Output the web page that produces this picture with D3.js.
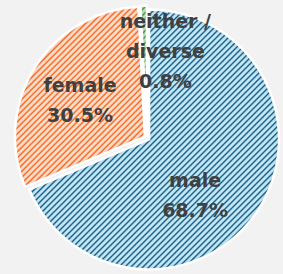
<!DOCTYPE html>
<html>
<head>
<meta charset="utf-8">
<script src="https://cdn.jsdelivr.net/npm/d3@7"></script>
<style>
  html, body { margin: 0; padding: 0; background: #f2f2f2; }
  svg { display: block; }
</style>
</head>
<body>
<div id="chart"></div>
<script>
// data
const categories = ['male', 'female', 'neither /\ndiverse'];
const shares = [68.7, 30.5, 0.8];
const lightColors = ['#c5e7f4', '#fddcc8', '#bfe0bf'];
const darkColors = ['#17608a', '#ef6c28', '#3f9a46'];
const labelNudge = [[-6, 21], [-12, -3], [20, -22]];

const width = 283, height = 274;
const cx = 147, cy = 138, radius = 130, explode = 2.5, lineGap = 30;
const period = 6;

const svg = d3.select('#chart')
    .append('svg')
    .attr('width', width)
    .attr('height', height);

svg.append('rect')
    .attr('width', width)
    .attr('height', height)
    .attr('fill', '#f2f2f2');

const defs = svg.append('defs');

// pixel cells of the "/" hatch: two dark pixels per column
const cells = [];
for (let x = 0; x < period; x++) {
    for (let y = 0; y < period; y++) {
        if ((x + y) % period < 2) cells.push([x, y]);
    }
}

shares.forEach((d, i) => {
    const pat = defs.append('pattern')
        .attr('id', 'hatch' + i)
        .attr('patternUnits', 'userSpaceOnUse')
        .attr('width', period)
        .attr('height', period);
    pat.append('rect')
        .attr('width', period)
        .attr('height', period)
        .attr('fill', lightColors[i]);
    pat.selectAll('rect.px')
        .data(cells)
        .enter().append('rect')
        .attr('class', 'px')
        .attr('x', c => c[0])
        .attr('y', c => c[1])
        .attr('width', 1)
        .attr('height', 1)
        .attr('fill', darkColors[i])
        .attr('shape-rendering', 'crispEdges');

    // inner shadow toward the slice edges
    const f = defs.append('filter')
        .attr('id', 'inner' + i)
        .attr('x', '-20%').attr('y', '-20%')
        .attr('width', '140%').attr('height', '140%');
    f.append('feComponentTransfer')
        .attr('in', 'SourceAlpha')
        .attr('result', 'inv')
        .append('feFuncA')
        .attr('type', 'table')
        .attr('tableValues', '1 0');
    f.append('feGaussianBlur')
        .attr('in', 'inv')
        .attr('stdDeviation', 3)
        .attr('result', 'blur');
    f.append('feFlood')
        .attr('flood-color', darkColors[i])
        .attr('flood-opacity', 0.4);
    f.append('feComposite')
        .attr('in2', 'blur')
        .attr('operator', 'in');
    f.append('feComposite')
        .attr('in2', 'SourceAlpha')
        .attr('operator', 'in')
        .attr('result', 'shadow');
    const m = f.append('feMerge');
    m.append('feMergeNode').attr('in', 'SourceGraphic');
    m.append('feMergeNode').attr('in', 'shadow');
});

const pie = d3.pie().sort(null).value(d => d);
const arcs = pie(shares);

const arc = d3.arc().innerRadius(0).outerRadius(radius);

const g = svg.append('g')
    .attr('transform', `translate(${cx},${cy})`);

const slice = g.selectAll('g.slice')
    .data(arcs)
    .enter().append('g')
    .attr('class', 'slice')
    .attr('transform', d => {
        const a = (d.startAngle + d.endAngle) / 2;
        return `translate(${Math.sin(a) * explode},${-Math.cos(a) * explode})`;
    });

slice.append('path')
    .attr('d', arc)
    .attr('fill', (d, i) => `url(#hatch${i})`)
    .attr('filter', (d, i) => `url(#inner${i})`);

slice.append('path')
    .attr('d', arc)
    .attr('fill', 'none')
    .attr('stroke', '#ffffff')
    .attr('stroke-width', 2.5)
    .attr('stroke-linejoin', 'round');

// labels
const labels = g.selectAll('text.lbl')
    .data(arcs)
    .enter().append('text')
    .attr('class', 'lbl')
    .attr('text-anchor', 'middle')
    .attr('font-family', '"DejaVu Sans", Verdana, sans-serif')
    .attr('font-weight', 'bold')
    .attr('font-size', 19)
    .attr('fill', '#404040');

labels.each(function(d, i) {
    const c = arc.centroid(d);
    const x = c[0] + labelNudge[i][0];
    const y = c[1] + labelNudge[i][1];
    const lines = categories[i].split('\n').concat([shares[i].toFixed(1) + '%']);
    const n = lines.length;
    d3.select(this).selectAll('tspan')
        .data(lines)
        .enter().append('tspan')
        .attr('x', x)
        .attr('y', (t, j) => y + (j - (n - 1) / 2) * lineGap)
        .attr('dy', '0.36em')
        .text(t => t);
});
</script>
</body>
</html>
